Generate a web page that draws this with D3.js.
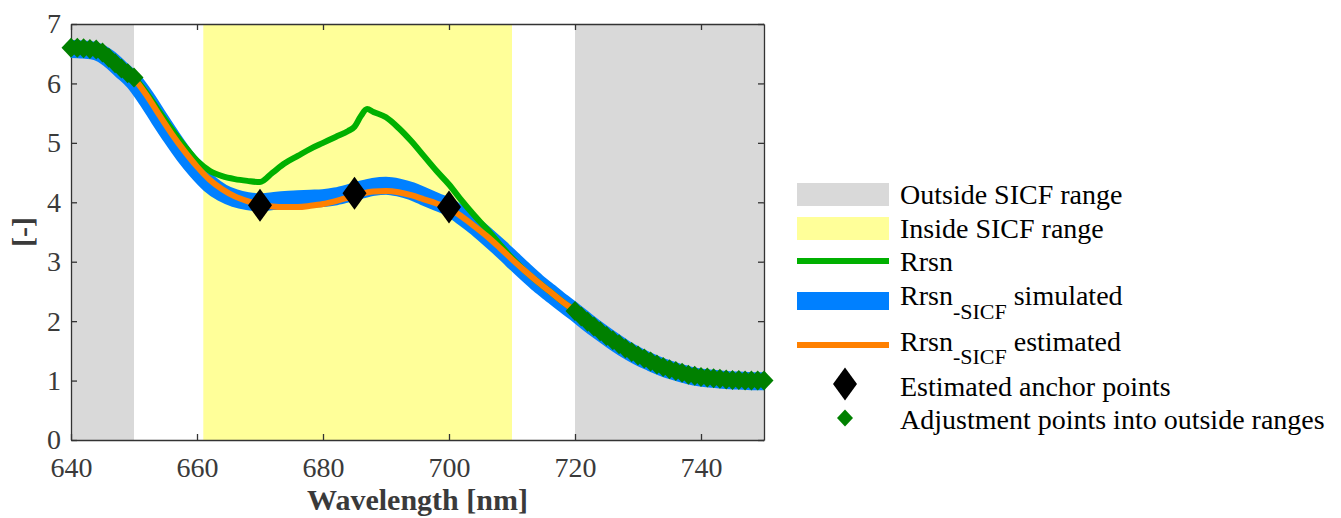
<!DOCTYPE html>
<html>
<head>
<meta charset="utf-8">
<script src="https://cdn.jsdelivr.net/npm/d3@7"></script>
<style>
  html, body { margin: 0; padding: 0; background: #fff; }
  svg { display: block; }
  svg text { font-family: "Liberation Serif", "Times New Roman", serif !important; }
</style>
</head>
<body>
<svg id="chart" width="1341" height="518"></svg>
<script>
// ---------------- data ----------------
const xTicks = [640, 660, 680, 700, 720, 740];
const yTicks = [0, 1, 2, 3, 4, 5, 6, 7];

// shaded ranges [start, end] in nm
const outsideRanges = [[640, 650], [720, 750]];
const insideRanges = [[661, 710]];

// Rrsn (measured)
const rrsnWl = [640, 642, 644, 646, 648, 650, 652, 654, 656, 658, 660, 662, 664, 666, 668, 670, 672, 674, 676, 678, 680, 682, 684, 685, 686, 687, 688, 690, 692, 694, 696, 698, 700, 702, 704, 706, 708, 710, 712, 714, 716, 718, 720, 722, 724, 726, 728, 730, 732, 734, 736, 738, 740, 742, 744, 746, 748, 750];
const rrsnVal = [6.60, 6.59, 6.57, 6.43, 6.25, 6.10, 5.84, 5.53, 5.23, 4.95, 4.70, 4.53, 4.44, 4.39, 4.36, 4.34, 4.50, 4.66, 4.78, 4.90, 5.00, 5.10, 5.20, 5.27, 5.45, 5.57, 5.52, 5.43, 5.25, 5.03, 4.78, 4.53, 4.30, 4.03, 3.78, 3.55, 3.30, 3.06, 2.85, 2.67, 2.50, 2.33, 2.17, 1.99, 1.83, 1.68, 1.54, 1.42, 1.32, 1.23, 1.16, 1.10, 1.06, 1.04, 1.02, 1.01, 1.00, 1.00];

// common wavelength grid for simulated / estimated curves
const wl = [640, 642, 644, 646, 648, 650, 652, 654, 656, 658, 660, 662, 664, 666, 668, 670, 672, 674, 676, 678, 680, 682, 684, 686, 688, 690, 692, 694, 696, 698, 700, 702, 704, 706, 708, 710, 712, 714, 716, 718, 720, 722, 724, 726, 728, 730, 732, 734, 736, 738, 740, 742, 744, 746, 748, 750];
// Rrsn-SICF simulated
const simVal = [6.58, 6.57, 6.54, 6.42, 6.23, 6.03, 5.74, 5.41, 5.09, 4.79, 4.53, 4.31, 4.16, 4.07, 4.02, 4.00, 4.02, 4.04, 4.05, 4.06, 4.07, 4.10, 4.15, 4.21, 4.26, 4.28, 4.25, 4.19, 4.10, 4.01, 3.92, 3.77, 3.61, 3.43, 3.24, 3.04, 2.84, 2.65, 2.48, 2.31, 2.15, 1.98, 1.82, 1.67, 1.53, 1.41, 1.31, 1.22, 1.15, 1.09, 1.05, 1.03, 1.01, 1.00, 0.99, 0.99];
// Rrsn-SICF estimated
const estVal = [6.60, 6.59, 6.57, 6.43, 6.25, 6.08, 5.80, 5.47, 5.15, 4.86, 4.60, 4.38, 4.22, 4.10, 4.02, 3.96, 3.93, 3.92, 3.92, 3.94, 3.97, 4.02, 4.08, 4.14, 4.18, 4.19, 4.17, 4.12, 4.05, 3.98, 3.90, 3.76, 3.60, 3.43, 3.24, 3.04, 2.85, 2.67, 2.50, 2.33, 2.17, 1.99, 1.83, 1.68, 1.54, 1.42, 1.32, 1.23, 1.16, 1.10, 1.06, 1.04, 1.02, 1.01, 1.00, 1.00];

// Estimated anchor points
const anchorWl = [670, 685, 700];
const anchorVal = [3.95, 4.15, 3.92];

// Adjustment points into outside ranges
const adjWl = [640, 641, 642, 643, 644, 645, 646, 647, 648, 649, 650,
  720, 721, 722, 723, 724, 725, 726, 727, 728, 729, 730, 731, 732, 733, 734, 735, 736, 737, 738, 739, 740, 741, 742, 743, 744, 745, 746, 747, 748, 749, 750];
const adjVal = [6.60, 6.60, 6.59, 6.58, 6.57, 6.52, 6.43, 6.34, 6.25, 6.17, 6.10,
  2.17, 2.08, 1.99, 1.91, 1.83, 1.75, 1.68, 1.61, 1.54, 1.48, 1.42, 1.37, 1.32, 1.27, 1.23, 1.19, 1.16, 1.13, 1.10, 1.08, 1.06, 1.05, 1.04, 1.03, 1.02, 1.01, 1.01, 1.00, 1.00, 1.00, 1.00];

const legendLabels = ["Outside SICF range", "Inside SICF range", "Rrsn", "Rrsn", "Rrsn", "Estimated anchor points", "Adjustment points into outside ranges"];

// ---------------- styles ----------------
const SERIF = "Liberation Serif, Times New Roman, serif";
const C = {
  gray: "#d9d9d9", yellow: "#ffff99", green: "#00b000", blue: "#0080ff",
  orange: "#ff8000", dgreen: "#008000", axis: "#333333", text: "#3a3a3a"
};

const svg = d3.select("#chart");
const x = d3.scaleLinear().domain([640, 750]).range([71, 764]);
const y = d3.scaleLinear().domain([0, 7]).range([440, 24]);

const diamond = (rx, ry) => `M0,${-ry}L${rx},0L0,${ry}L${-rx},0Z`;

// shaded regions
svg.append("g").selectAll("rect").data(outsideRanges).join("rect")
  .attr("x", d => x(d[0])).attr("width", d => x(d[1]) - x(d[0]))
  .attr("y", y(7)).attr("height", y(0) - y(7)).attr("fill", C.gray);
svg.append("g").selectAll("rect").data(insideRanges).join("rect")
  .attr("x", d => x(d[0])).attr("width", d => x(d[1]) - x(d[0]))
  .attr("y", y(7)).attr("height", y(0) - y(7)).attr("fill", C.yellow);

// axes (ticks inward, box)
function styleAxis(g) {
  g.attr("font-family", SERIF).attr("font-size", 28);
  g.selectAll(".domain").attr("stroke", C.axis).attr("stroke-width", 1.3);
  g.selectAll(".tick line").attr("stroke", C.axis).attr("stroke-width", 1.3);
  g.selectAll(".tick text").attr("fill", C.text)
    .attr("font-family", SERIF).attr("font-size", 28);
}
svg.append("g").attr("transform", `translate(0,${y(0)})`)
  .call(d3.axisBottom(x).tickValues(xTicks).tickFormat(d3.format("d")).tickSizeInner(-6).tickSizeOuter(0).tickPadding(17))
  .call(styleAxis)
  .call(g => g.selectAll(".tick text").attr("dy", "0.71em"));
svg.append("g").attr("transform", `translate(0,${y(7)})`)
  .call(d3.axisTop(x).tickValues(xTicks).tickFormat("").tickSizeInner(-6).tickSizeOuter(0))
  .call(styleAxis);
svg.append("g").attr("transform", `translate(${x(640)},0)`)
  .call(d3.axisLeft(y).tickValues(yTicks).tickFormat(d3.format("d")).tickSizeInner(-6).tickSizeOuter(0).tickPadding(10))
  .call(styleAxis);
svg.append("g").attr("transform", `translate(${x(750)},0)`)
  .call(d3.axisRight(y).tickValues(yTicks).tickFormat("").tickSizeInner(-6).tickSizeOuter(0))
  .call(styleAxis);

// axis titles
svg.append("text").attr("x", (x(640) + x(750)) / 2).attr("y", 510)
  .attr("text-anchor", "middle").attr("font-weight", "bold").attr("font-size", 30)
  .attr("font-family", SERIF).attr("fill", C.text).text("Wavelength [nm]");
svg.append("text").attr("transform", `translate(33,${(y(0) + y(7)) / 2}) rotate(-90)`)
  .attr("text-anchor", "middle").attr("font-weight", "bold").attr("font-size", 30)
  .attr("font-family", SERIF).attr("fill", C.text).text("[-]");

// curves
const line = d3.line().curve(d3.curveMonotoneX).x(d => x(d[0])).y(d => y(d[1]));
const plot = svg.append("g");
plot.append("path").datum(wl.map((w, i) => [w, simVal[i]])).attr("d", line)
  .attr("fill", "none").attr("stroke", C.blue).attr("stroke-width", 18)
  .attr("stroke-linejoin", "round").attr("stroke-linecap", "butt");
plot.append("path").datum(rrsnWl.map((w, i) => [w, rrsnVal[i]])).attr("d", line)
  .attr("fill", "none").attr("stroke", C.green).attr("stroke-width", 6)
  .attr("stroke-linejoin", "round");
plot.append("path").datum(wl.map((w, i) => [w, estVal[i]])).attr("d", line)
  .attr("fill", "none").attr("stroke", C.orange).attr("stroke-width", 6)
  .attr("stroke-linejoin", "round");

// anchor points
plot.append("g").selectAll("path").data(anchorWl.map((w, i) => [w, anchorVal[i]])).join("path")
  .attr("transform", d => `translate(${x(d[0])},${y(d[1])})`)
  .attr("d", diamond(12, 16.5)).attr("fill", "#000");

// adjustment points
plot.append("g").selectAll("path").data(adjWl.map((w, i) => [w, adjVal[i]])).join("path")
  .attr("transform", d => `translate(${x(d[0])},${y(d[1])})`)
  .attr("d", diamond(9.5, 10)).attr("fill", C.dgreen);

// ---------------- legend ----------------
const lg = svg.append("g");
const sx0 = 797, sx1 = 889, tx = 900;
lg.append("rect").attr("x", sx0).attr("y", 183).attr("width", sx1 - sx0).attr("height", 23).attr("fill", C.gray);
lg.append("rect").attr("x", sx0).attr("y", 217).attr("width", sx1 - sx0).attr("height", 23).attr("fill", C.yellow);
lg.append("line").attr("x1", sx0).attr("x2", sx1).attr("y1", 261).attr("y2", 261).attr("stroke", C.green).attr("stroke-width", 6);
lg.append("rect").attr("x", sx0).attr("y", 292).attr("width", sx1 - sx0).attr("height", 18).attr("fill", C.blue);
lg.append("line").attr("x1", sx0).attr("x2", sx1).attr("y1", 345).attr("y2", 345).attr("stroke", C.orange).attr("stroke-width", 6);
lg.append("path").attr("transform", "translate(845,384)").attr("d", diamond(12, 16.5)).attr("fill", "#000");
lg.append("path").attr("transform", "translate(845,418)").attr("d", diamond(8, 8.5)).attr("fill", C.dgreen);

const lt = (yy) => lg.append("text").attr("x", tx).attr("y", yy).attr("font-size", 28)
  .attr("font-family", SERIF).attr("fill", "#000");
lt(204).text(legendLabels[0]);
lt(238).text(legendLabels[1]);
lt(271).text(legendLabels[2]);
const t4 = lt(305);
t4.append("tspan").text(legendLabels[3]);
t4.append("tspan").attr("dy", 14).attr("font-size", 22).text("-SICF");
t4.append("tspan").attr("dy", -14).text(" simulated");
const t5 = lt(351);
t5.append("tspan").text(legendLabels[4]);
t5.append("tspan").attr("dy", 13).attr("font-size", 22).text("-SICF");
t5.append("tspan").attr("dy", -13).text(" estimated");
lt(396).text(legendLabels[5]);
lt(429).text(legendLabels[6]);
</script>
</body>
</html>
